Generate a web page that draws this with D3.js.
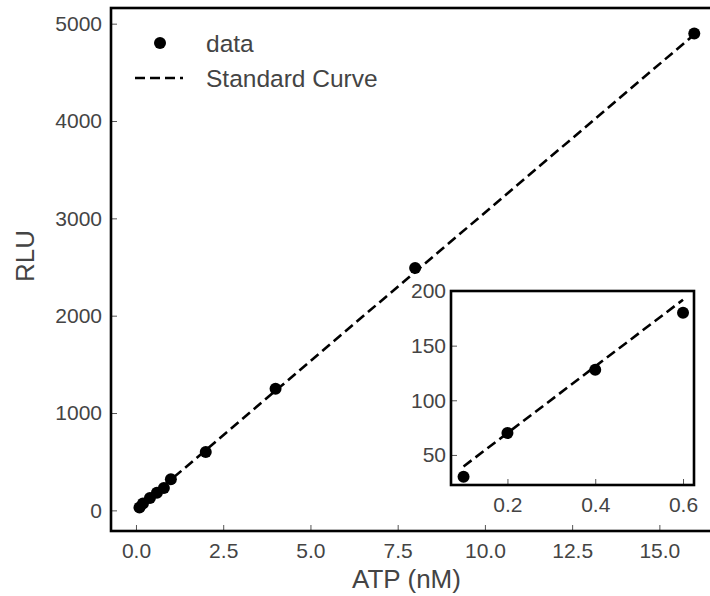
<!DOCTYPE html>
<html>
<head>
<meta charset="utf-8">
<script src="https://cdn.jsdelivr.net/npm/d3@7"></script>
<style>
  body { margin: 0; background: #fff; }
  svg { display: block; font-family: "Liberation Sans", Arial, sans-serif; }
  .tick text { fill: #444; }
  .tick line { stroke: #555; }
</style>
</head>
<body>
<div id="chart"></div>
<script>
// data
var atp = [0.1, 0.2, 0.4, 0.6, 0.8, 1, 2, 4, 8, 16];
var rlu = [30, 70, 128, 180, 230, 320, 600, 1250, 2490, 4900];
// standard curve: RLU = slope * ATP + intercept
var slope = 305, intercept = 9;
// inset shows the low end
var insetAtp = [0.1, 0.2, 0.4, 0.6];
var insetRlu = [30, 70, 128, 180];

var xTicks = [0, 2.5, 5, 7.5, 10, 12.5, 15];
var yTicks = [0, 1000, 2000, 3000, 4000, 5000];
var insetXTicks = [0.2, 0.4, 0.6];
var insetYTicks = [50, 100, 150, 200];

var W = 710, H = 596;
var box = {left: 111, top: 8, right: 722, bottom: 531};

var svg = d3.select("#chart").append("svg")
    .attr("width", W)
    .attr("height", H);

var x = d3.scaleLinear().domain([-0.716, 16.795]).range([box.left, box.right]);
var y = d3.scaleLinear().domain([-212, 5161]).range([box.bottom, box.top]);

function curve(v) { return slope * v + intercept; }

// Axes
svg.append("g")
    .attr("transform", "translate(0," + box.bottom + ")")
    .call(d3.axisBottom(x).tickValues(xTicks).tickSize(-6).tickPadding(12)
        .tickFormat(d3.format(".1f")))
    .call(function(g) { g.select(".domain").remove(); })
    .selectAll("text").attr("font-size", 21);

svg.append("g")
    .attr("transform", "translate(" + box.left + ",0)")
    .call(d3.axisLeft(y).tickValues(yTicks).tickSize(-6).tickPadding(9)
        .tickFormat(d3.format("d")))
    .call(function(g) { g.select(".domain").remove(); })
    .selectAll("text").attr("font-size", 21);

// Standard curve
svg.append("line")
    .attr("x1", x(0.1)).attr("y1", y(curve(0.1)))
    .attr("x2", x(16)).attr("y2", y(curve(16)))
    .attr("stroke", "#000")
    .attr("stroke-width", 2.6)
    .attr("stroke-dasharray", "10,5");

// data points
svg.selectAll("circle.pt")
    .data(atp)
    .enter().append("circle")
    .attr("class", "pt")
    .attr("cx", function(d) { return x(d); })
    .attr("cy", function(d, i) { return y(rlu[i]); })
    .attr("r", 6)
    .attr("fill", "#000");

// frame
svg.append("rect")
    .attr("x", box.left).attr("y", box.top)
    .attr("width", box.right - box.left).attr("height", box.bottom - box.top)
    .attr("fill", "none").attr("stroke", "#000").attr("stroke-width", 2.6);

// axis labels
svg.append("text")
    .attr("x", (box.left + box.right) / 2 - 10)
    .attr("y", 588)
    .attr("text-anchor", "middle")
    .attr("font-size", 26)
    .attr("fill", "#444")
    .text("ATP (nM)");

svg.append("text")
    .attr("transform", "translate(34,256) rotate(-90)")
    .attr("text-anchor", "middle")
    .attr("font-size", 26)
    .attr("fill", "#444")
    .text("RLU");

// legend
var leg = svg.append("g");
leg.append("circle").attr("cx", 160).attr("cy", 43).attr("r", 6).attr("fill", "#000");
leg.append("text").attr("x", 206).attr("y", 52).attr("font-size", 24.5).attr("fill", "#444").text("data");
leg.append("line").attr("x1", 135).attr("x2", 183).attr("y1", 78).attr("y2", 78)
    .attr("stroke", "#000").attr("stroke-width", 2.6).attr("stroke-dasharray", "10,5");
leg.append("text").attr("x", 206).attr("y", 87).attr("font-size", 24.5).attr("fill", "#444").text("Standard Curve");

// Inset
var ib = {left: 451, top: 291, right: 694, bottom: 485};
var ix = d3.scaleLinear().domain([0.0714, 0.625]).range([ib.left, ib.right]);
var iy = d3.scaleLinear().domain([22.5, 200]).range([ib.bottom, ib.top]);

var inset = svg.append("g");
inset.append("rect")
    .attr("x", ib.left).attr("y", ib.top)
    .attr("width", ib.right - ib.left).attr("height", ib.bottom - ib.top)
    .attr("fill", "#fff");

inset.append("g")
    .attr("transform", "translate(0," + ib.bottom + ")")
    .call(d3.axisBottom(ix).tickValues(insetXTicks).tickSize(-6).tickPadding(12)
        .tickFormat(d3.format(".1f")))
    .call(function(g) { g.select(".domain").remove(); })
    .selectAll("text").attr("font-size", 21);

inset.append("g")
    .attr("transform", "translate(" + ib.left + ",0)")
    .call(d3.axisLeft(iy).tickValues(insetYTicks).tickSize(-6).tickPadding(5))
    .call(function(g) { g.select(".domain").remove(); })
    .selectAll("text").attr("font-size", 21);

inset.append("line")
    .attr("x1", ix(0.1)).attr("y1", iy(curve(0.1)))
    .attr("x2", ix(0.6)).attr("y2", iy(curve(0.6)))
    .attr("stroke", "#000")
    .attr("stroke-width", 2.6)
    .attr("stroke-dasharray", "10,5");

inset.selectAll("circle")
    .data(insetAtp)
    .enter().append("circle")
    .attr("cx", function(d) { return ix(d); })
    .attr("cy", function(d, i) { return iy(insetRlu[i]); })
    .attr("r", 6)
    .attr("fill", "#000");

inset.append("rect")
    .attr("x", ib.left).attr("y", ib.top)
    .attr("width", ib.right - ib.left).attr("height", ib.bottom - ib.top)
    .attr("fill", "none").attr("stroke", "#000").attr("stroke-width", 2.6);
</script>
</body>
</html>
